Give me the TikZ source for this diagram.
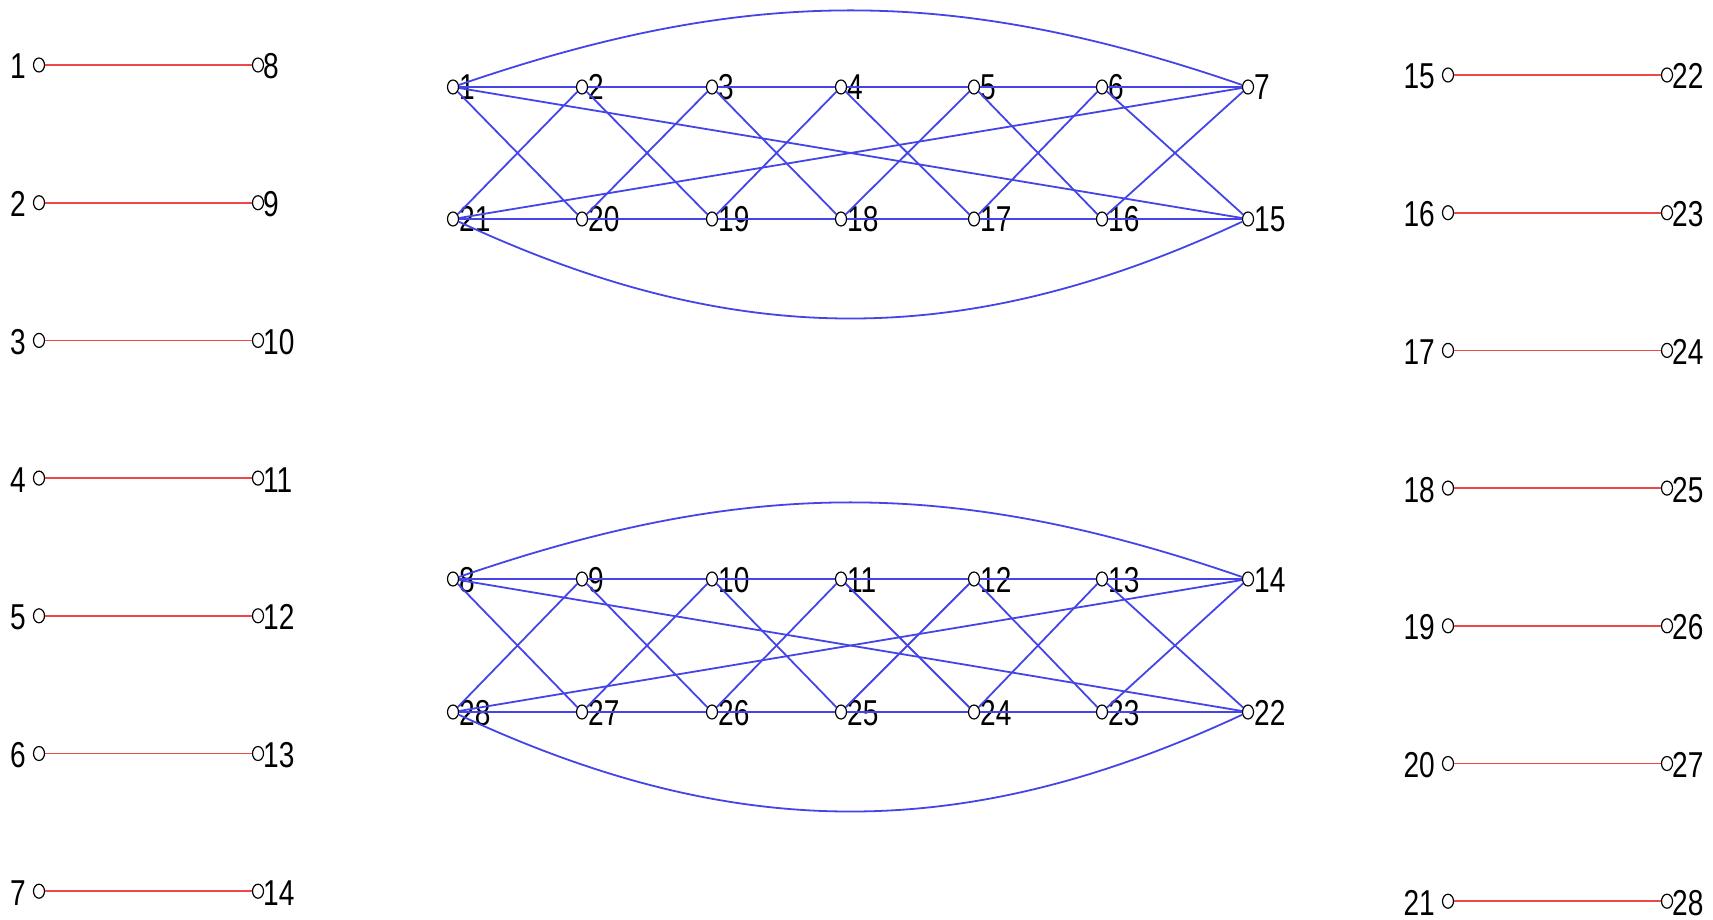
\documentclass[tikz,border=0pt]{standalone}
\usepackage{fontspec}
\newfontfamily\labfont[FakeStretch=0.78]{Liberation Sans}
\usetikzlibrary{shapes.geometric}
\definecolor{edgeblue}{RGB}{68,68,232}
\definecolor{edgered}{RGB}{236,72,72}
\tikzset{
  vtx/.style={ellipse,draw=black,fill=white,line width=1.2pt,minimum width=11pt,minimum height=14pt,inner sep=0pt},
  lab/.style={inner sep=0pt,font=\labfont\fontsize{36}{40}\selectfont,text=black},
  bl/.style={draw=edgeblue,line width=1.8pt},
  rd/.style={draw=edgered,line width=1.8pt}
}
\begin{document}
\begin{tikzpicture}[x=1pt,y=1pt]
\useasboundingbox (0,0) rectangle (1713,-920);
% ---------- left and right columns (red pairs) ----------
\foreach \i in {1,...,7}{
  \pgfmathsetmacro\yy{-(65+137.7*(\i-1))}
  \pgfmathtruncatemacro\ja{\i+7}
  \node[vtx] (a\i) at (39,\yy) {};
  \node[vtx] (b\ja) at (258,\yy) {};
  \node[lab,anchor=base east] (la\i) at (26,\yy-14) {\i};
  \node[lab,anchor=base west] (lb\ja) at (263,\yy-14) {\ja};
  \draw[rd] (a\i) -- (b\ja);
}
\foreach \i in {15,...,21}{
  \pgfmathsetmacro\yy{-(75+137.7*(\i-15))}
  \pgfmathtruncatemacro\ja{\i+7}
  \node[vtx] (c\i) at (1448,\yy) {};
  \node[vtx] (d\ja) at (1667,\yy) {};
  \node[lab,anchor=base east] (lc\i) at (1435,\yy-14) {\i};
  \node[lab,anchor=base west] (ld\ja) at (1672,\yy-14) {\ja};
  \draw[rd] (c\i) -- (d\ja);
}
% ---------- graphs ----------
\def\xs{{0,453,582,712,841,974,1102,1248}}
% top graph: upper row t1..t7 (labels 1..7), lower row u1..u7 (labels 21..15)
% bottom graph: upper row v1..v7 (labels 8..14), lower row w1..w7 (labels 28..22)
\foreach \k in {1,...,7}{
  \pgfmathsetmacro\xx{\xs[\k]}
  \pgfmathtruncatemacro\nt{\k}
  \pgfmathtruncatemacro\nu{22-\k}
  \pgfmathtruncatemacro\nv{7+\k}
  \pgfmathtruncatemacro\nw{29-\k}
  \node[vtx] (t\k) at (\xx,-87) {};
  \node[vtx] (u\k) at (\xx,-219) {};
  \node[vtx] (v\k) at (\xx,-579) {};
  \node[vtx] (w\k) at (\xx,-712) {};
  \node[lab,anchor=base west] (lt\k) at (\xx+6,-100) {\nt};
  \node[lab,anchor=base west] (lu\k) at (\xx+6,-232) {\nu};
  \node[lab,anchor=base west] (lv\k) at (\xx+6,-592) {\nv};
  \node[lab,anchor=base west] (lw\k) at (\xx+6,-725) {\nw};
}
\foreach \r/\s in {t/u,v/w}{
  \foreach \k [evaluate=\k as \kn using int(\k+1)] in {1,...,6}{
    \draw[bl] (\r\k) -- (\r\kn);
    \draw[bl] (\s\k) -- (\s\kn);
    \draw[bl] (\r\k) -- (\s\kn);
    \draw[bl] (\s\k) -- (\r\kn);
  }
  \draw[bl] (\r1) -- (\s7);
  \draw[bl] (\s1) -- (\r7);
  \draw[bl] (\r1) to[out=19,in=161] (\r7);
  \draw[bl] (\s1) to[out=-25,in=-155] (\s7);
}
\end{tikzpicture}
\end{document}
